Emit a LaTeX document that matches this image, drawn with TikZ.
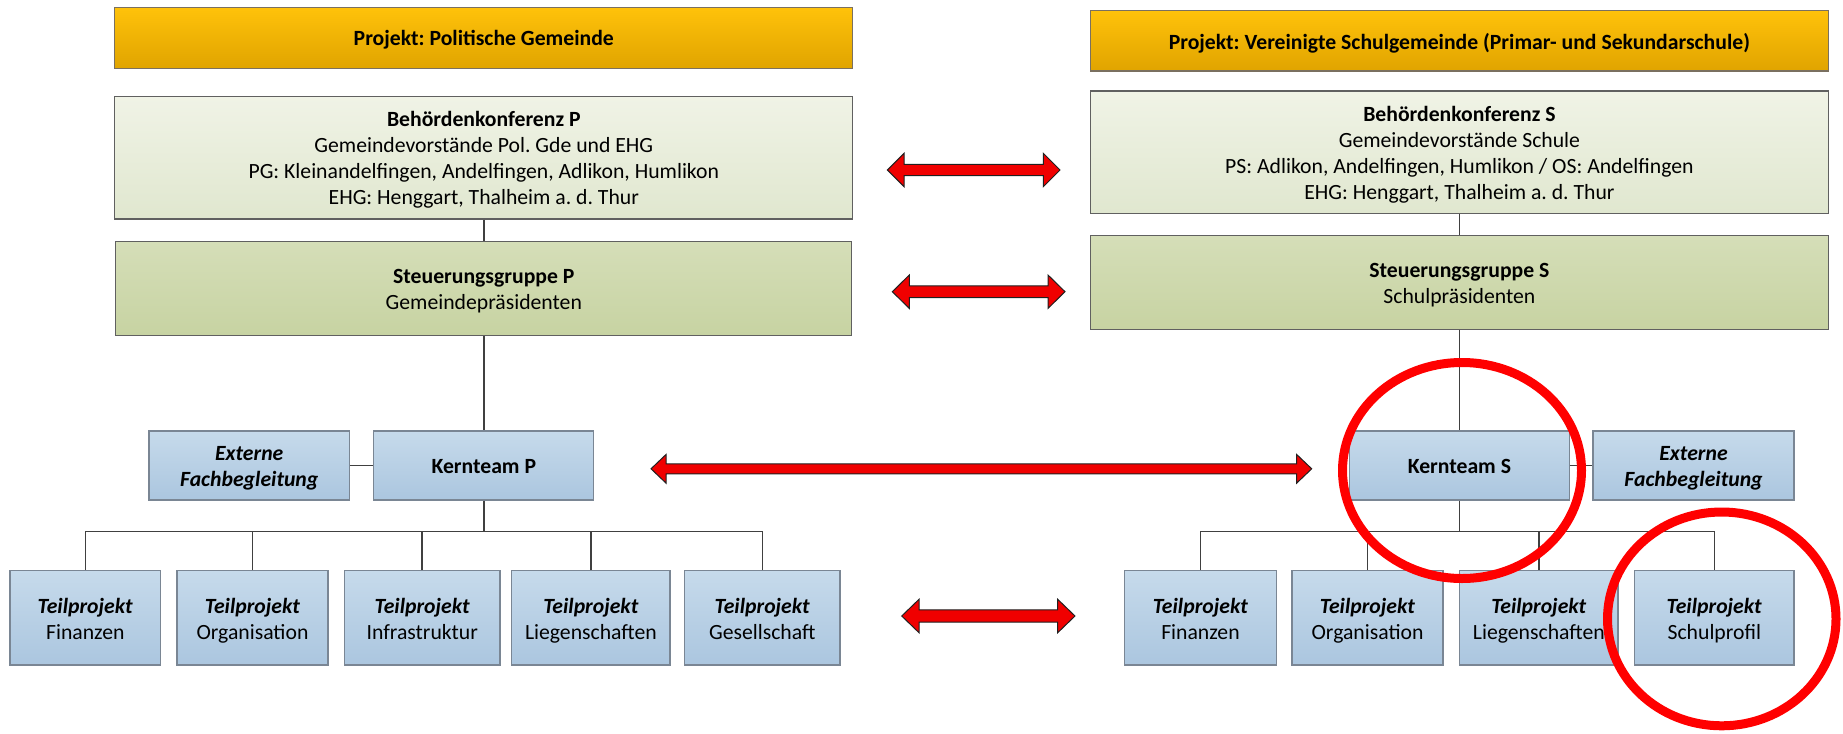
\documentclass[tikz,border=0pt]{standalone}
\usepackage{fontspec}
\setmainfont{Carlito}
\frenchspacing
\definecolor{gold1}{HTML}{FFC20A}
\definecolor{gold2}{HTML}{E0A400}
\definecolor{goldline}{HTML}{7A7060}
\definecolor{pale1}{HTML}{F0F3E6}
\definecolor{pale2}{HTML}{E0E7CF}
\definecolor{olive1}{HTML}{D5DEB8}
\definecolor{olive2}{HTML}{C7D3A2}
\definecolor{blue1}{HTML}{C6DAEB}
\definecolor{blue2}{HTML}{ABC6DF}
\definecolor{blueline}{HTML}{7A8694}
\definecolor{boxline}{HTML}{606060}
\definecolor{connc}{HTML}{404040}
\definecolor{arrred}{HTML}{F00000}
\definecolor{arrline}{HTML}{202020}
\definecolor{ringred}{HTML}{FF0000}
\newcommand\redarrow[6]{% x1 x2 y shafthalf headhalf headlength
  \draw[redarr] (#1,#3) -- (#1+#6,#3-#5) -- (#1+#6,#3-#4) -- (#2-#6,#3-#4) -- (#2-#6,#3-#5) -- (#2,#3)
    -- (#2-#6,#3+#5) -- (#2-#6,#3+#4) -- (#1+#6,#3+#4) -- (#1+#6,#3+#5) -- cycle;}
\newcommand\bi[1]{\textbf{\textit{#1}}}
\newcommand\st{\rule[-4.8pt]{0pt}{26pt}}
\begin{document}
\begin{tikzpicture}[x=1pt,y=-1pt,
  box/.style={draw=boxline, line width=1.3pt, inner sep=0pt, align=center,
    font=\fontsize{21.7}{26}\selectfont},
  goldbox/.style={box, top color=gold1, bottom color=gold2, draw=goldline},
  palebox/.style={box, top color=pale1, bottom color=pale2},
  olivebox/.style={box, top color=olive1, bottom color=olive2},
  bluebox/.style={box, top color=blue1, bottom color=blue2, draw=blueline},
  bigw/.style={minimum width=738pt},
  tbox/.style={bluebox, minimum height=94.3pt},
  kbox/.style={bluebox, minimum height=69pt},
  conn/.style={draw=connc, line width=1.6pt},
  redarr/.style={fill=arrred, draw=arrline, line width=1pt, line join=miter},
  ring/.style={draw=ringred, line width=9pt}
]
\useasboundingbox (0,0) rectangle (1843,733);

% left column
\node[goldbox, bigw, minimum height=61pt] (TP) at (483.8,37.8) {\st\textbf{Projekt: Politische Gemeinde}};
\node[palebox, bigw, minimum height=122.7pt] (BP) at (483.8,157.65)
  {\st\textbf{Behördenkonferenz P}\\\st Gemeindevorstände Pol. Gde und EHG\\\st PG: Kleinandelfingen, Andelfingen, Adlikon, Humlikon\\\st EHG: Henggart, Thalheim a. d. Thur};
\node[olivebox, minimum width=736pt, minimum height=93.8pt] (SP) at (483.8,288.4)
  {\st\textbf{Steuerungsgruppe P}\\\st Gemeindepräsidenten};
\node[kbox, minimum width=200.4pt] (EP) at (249.2,465.5) {\st\bi{Externe}\\\st\bi{Fachbegleitung}};
\node[kbox, minimum width=220pt] (KP) at (483.8,465.5) {\st\textbf{Kernteam P}};
\node[tbox, minimum width=150.8pt] (TP1) at (85.3,617.85) {\st\bi{Teilprojekt}\\\st Finanzen};
\node[tbox, minimum width=151pt] (TP2) at (252.5,617.85) {\st\bi{Teilprojekt}\\\st Organisation};
\node[tbox, minimum width=155.5pt] (TP3) at (422.25,617.85) {\st\bi{Teilprojekt}\\\st Infrastruktur};
\node[tbox, minimum width=158.2pt] (TP4) at (590.9,617.85) {\st\bi{Teilprojekt}\\\st Liegenschaften};
\node[tbox, minimum width=155.4pt] (TP5) at (762.3,617.85) {\st\bi{Teilprojekt}\\\st Gesellschaft};

% right column
\node[goldbox, bigw, minimum height=60.3pt] (TS) at (1459.4,40.85) {\st\textbf{Projekt: Vereinigte Schulgemeinde (Primar- und Sekundarschule)}};
\node[palebox, bigw, minimum height=122.7pt] (BS) at (1459.4,152.35)
  {\st\textbf{Behördenkonferenz S}\\\st Gemeindevorstände Schule\\\st PS: Adlikon, Andelfingen, Humlikon / OS: Andelfingen\\\st EHG: Henggart, Thalheim a. d. Thur};
\node[olivebox, bigw, minimum height=93.6pt] (SS) at (1459.4,282.5)
  {\st\textbf{Steuerungsgruppe S}\\\st Schulpräsidenten};
\node[kbox, minimum width=219.7pt] (KS) at (1459.4,465.5) {\st\textbf{Kernteam S}};
\node[kbox, minimum width=201pt] (ES) at (1693.5,465.5) {\st\bi{Externe}\\\st\bi{Fachbegleitung}};
\node[tbox, minimum width=151.7pt] (TS1) at (1200.45,617.85) {\st\bi{Teilprojekt}\\\st Finanzen};
\node[tbox, minimum width=151pt] (TS2) at (1367.5,617.85) {\st\bi{Teilprojekt}\\\st Organisation};
\node[tbox, minimum width=158.3pt] (TS3) at (1538.85,617.85) {\st\bi{Teilprojekt}\\\st Liegenschaften};
\node[tbox, minimum width=159.4pt] (TS4) at (1714.3,617.85) {\st\bi{Teilprojekt}\\\st Schulprofil};

% connectors left
\draw[conn] (BP.south) -- (SP.north);
\draw[conn] (SP.south) -- (KP.north);
\draw[conn] (EP.east) -- (KP.west);
\path (KP.south) ++(0,31) coordinate (busP);
\draw[conn] (KP.south) -- (busP);
\foreach \t in {TP1,TP2,TP3,TP4,TP5} \draw[conn] (busP) -| (\t.north);

% connectors right
\draw[conn] (BS.south) -- (SS.north);
\draw[conn] (SS.south) -- (KS.north);
\draw[conn] (KS.east) -- (ES.west);
\path (KS.south) ++(0,31) coordinate (busS);
\draw[conn] (KS.south) -- (busS);
\foreach \t in {TS1,TS2,TS3,TS4} \draw[conn] (busS) -| (\t.north);

% red double arrows
\redarrow{887.3}{1060}{170}{5.7}{16.7}{16.7}
\redarrow{892.3}{1065}{291.7}{5.8}{16.7}{17}
\redarrow{901.7}{1075}{616}{6.1}{16.7}{17.3}
\redarrow{651}{1311.7}{468.8}{5}{14.3}{15}

% red rings
\draw[ring] (1462,470.5) ellipse [x radius=119.5pt, y radius=108pt];
\draw[ring] (1721.75,618.9) ellipse [x radius=114.25pt, y radius=106.9pt];
\end{tikzpicture}
\end{document}
